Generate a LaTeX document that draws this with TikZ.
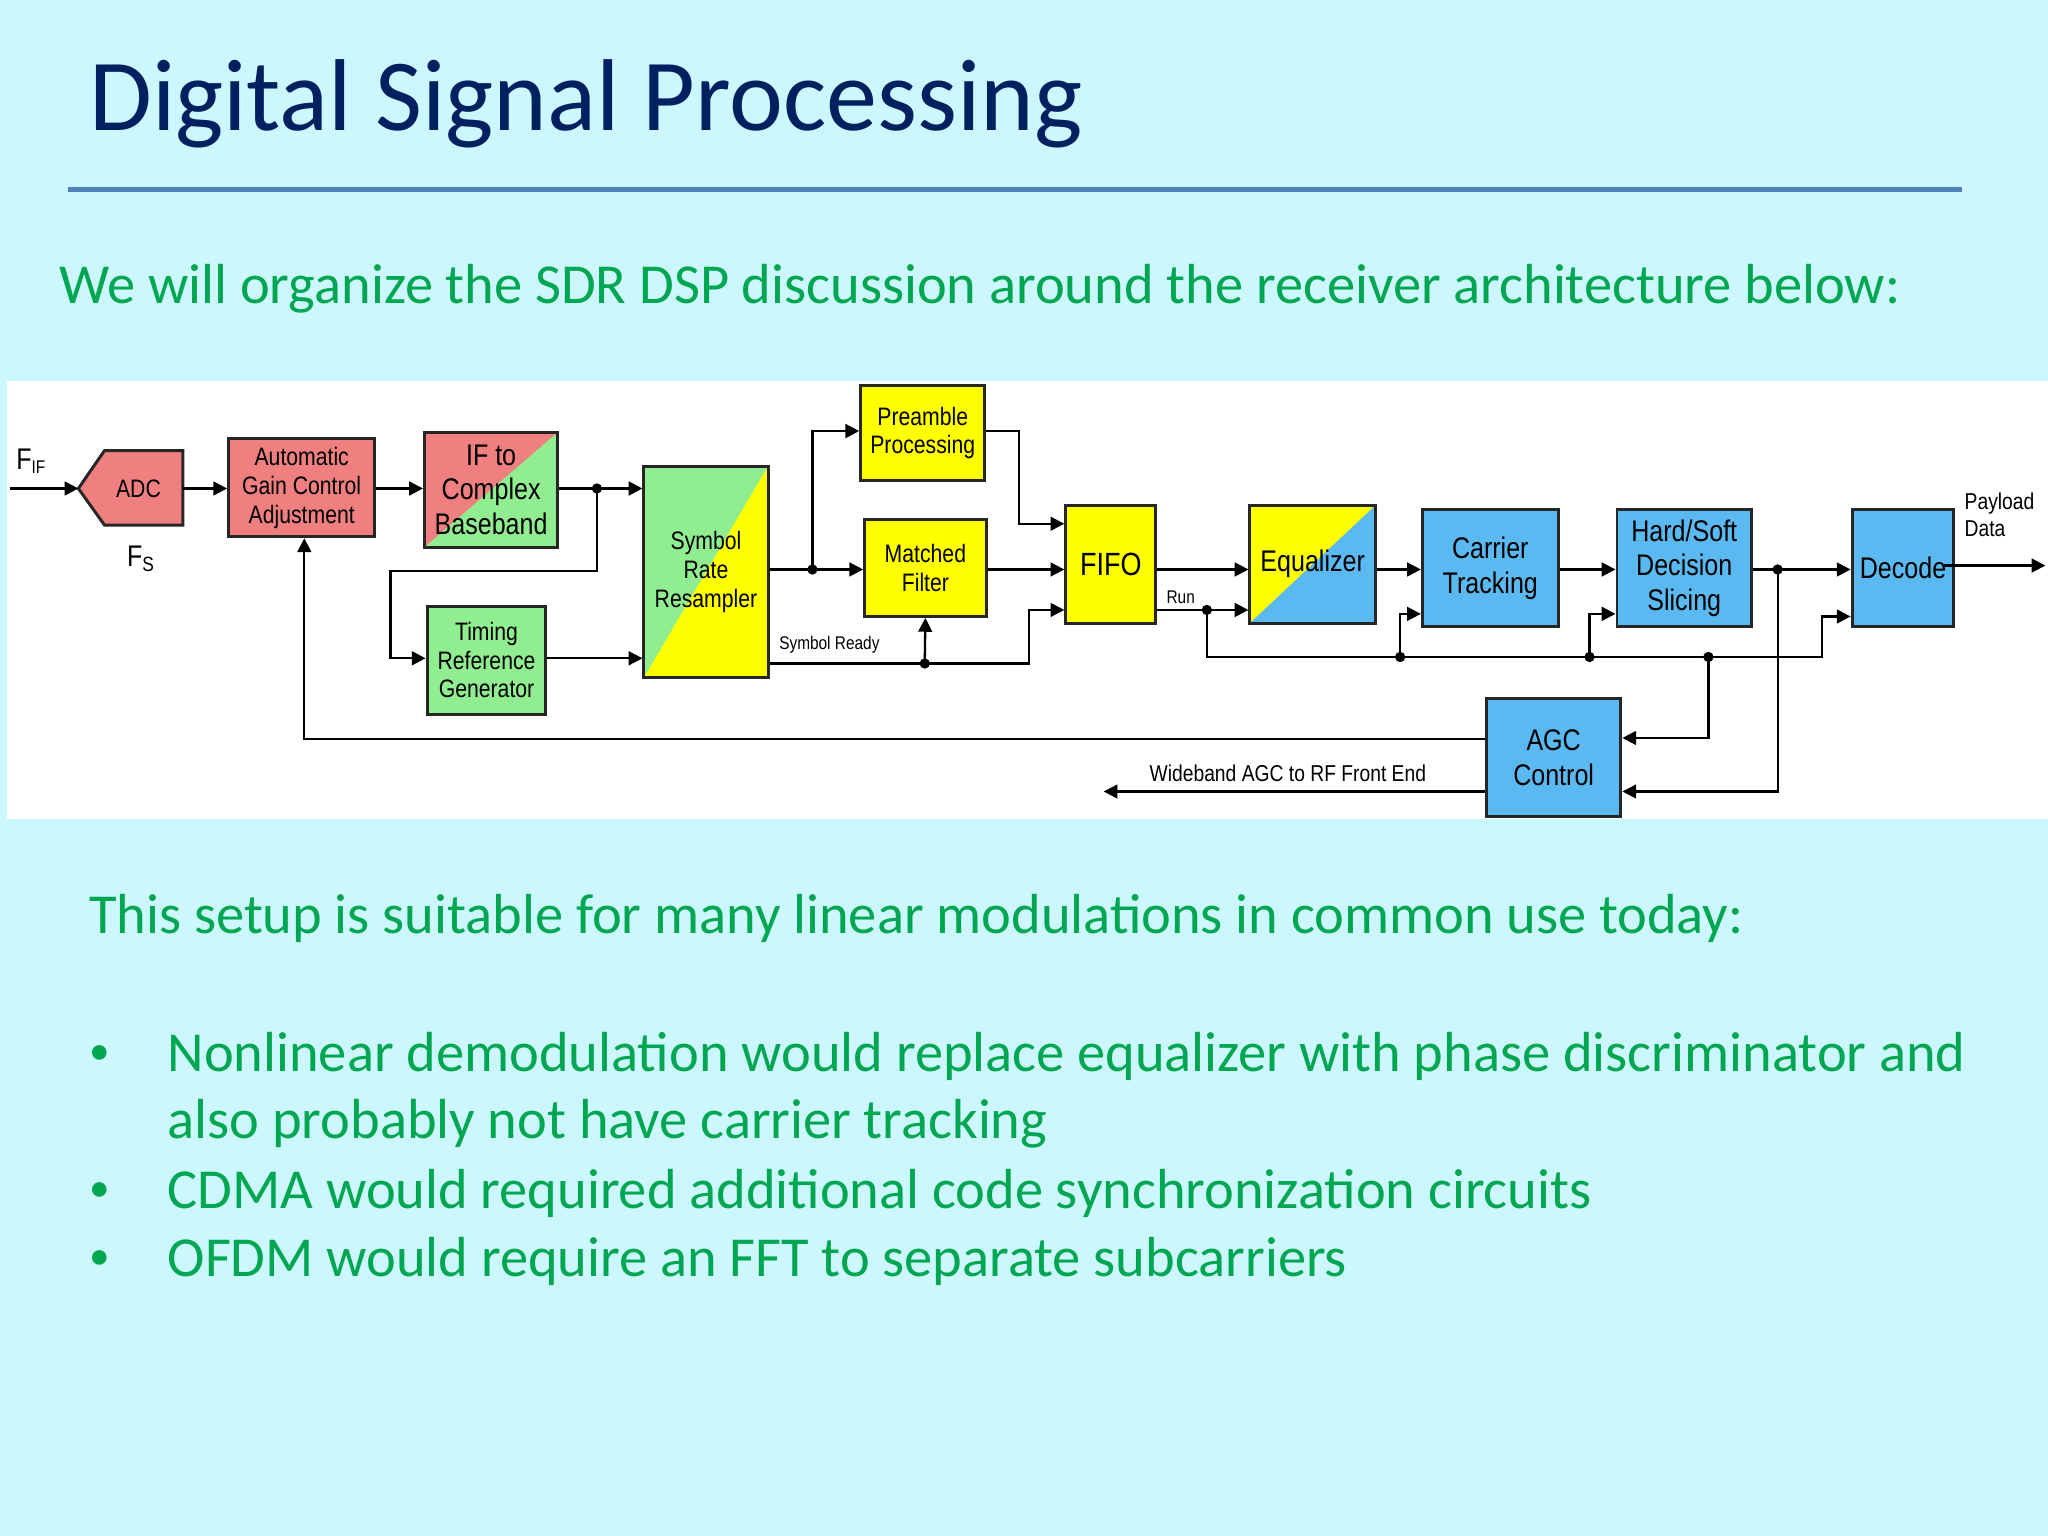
\documentclass[tikz,border=0pt]{standalone}
\usepackage{fontspec}
\setmainfont{Carlito}
\newfontfamily\diag[FakeStretch=0.84]{Liberation Sans}
\usetikzlibrary{arrows.meta}
\definecolor{bgc}{RGB}{204,247,255}
\definecolor{navy}{RGB}{0,32,96}
\definecolor{grn}{RGB}{0,166,80}
\definecolor{rul}{RGB}{79,129,189}
\definecolor{salm}{RGB}{240,128,128}
\definecolor{lgrn}{RGB}{144,238,144}
\definecolor{ylw}{RGB}{255,255,0}
\definecolor{lblu}{RGB}{90,185,240}
\begin{document}
\begin{tikzpicture}[x=0.02cm,y=-0.02cm,
  box/.style={draw=black!85,line width=1.3pt,inner sep=0pt,align=center,
    font=\diag\fontsize{11}{12.5}\selectfont},
  split/.style={path picture={\fill[#1] (path picture bounding box.south west)
    -- (path picture bounding box.north east) -- (path picture bounding box.south east) -- cycle;}},
  wire/.style={line width=1pt,black},
  arr/.style={wire,-{Triangle[length=6pt,width=6pt]}},
  dot/.style={circle,fill=black,inner sep=0pt,minimum size=4.5pt},
  lbl/.style={font=\diag\fontsize{8}{9}\selectfont,inner sep=1pt},
  body/.style={font=\fontsize{24.6}{30}\selectfont,text=grn,anchor=base west,inner sep=0pt}]
\fill[bgc] (0,0) rectangle (1568,1176);
\useasboundingbox (0,0) rectangle (1568,1176);
\node[font=\fontsize{44.5}{50}\selectfont,text=navy,anchor=base west,inner sep=0pt] (title) at (68,100) {Digital Signal Processing};
\draw[rul,line width=2.5pt] (52,145) -- (1502,145);
\node[body] (intro) at (45,232) {We will organize the SDR DSP discussion around the receiver architecture below:};
\fill[white] (5,292) rectangle (1568,627);

% blocks
\fill[salm,draw=black!85,line width=1.3pt] (60,374) -- (80,345) -- (140,345) -- (140,402) -- (80,402) -- cycle;
\node[font=\diag\fontsize{11}{12}\selectfont] (adc) at (106,374) {ADC};
\node[box,fill=salm,minimum width=112*0.02cm,minimum height=75*0.02cm] (agc) at (231,373.5) {Automatic\\Gain Control\\Adjustment};
\node[box,fill=salm,split=lgrn,minimum width=102*0.02cm,minimum height=88*0.02cm,font=\diag\fontsize{13}{15}\selectfont] (ifc) at (376,375) {IF to\\Complex\\Baseband};
\node[box,fill=lgrn,split=ylw,minimum width=95*0.02cm,minimum height=162*0.02cm] (srr) at (540.5,438) {Symbol\\Rate\\Resampler};
\node[box,fill=lgrn,minimum width=91*0.02cm,minimum height=83*0.02cm] (trg) at (372.5,505.5) {Timing\\Reference\\Generator};
\node[box,fill=ylw,minimum width=95*0.02cm,minimum height=73*0.02cm] (pre) at (706.5,331.5) {Preamble\\Processing};
\node[box,fill=ylw,minimum width=93*0.02cm,minimum height=74*0.02cm] (mf) at (708.5,435) {Matched\\Filter};
\node[box,fill=ylw,minimum width=69*0.02cm,minimum height=90*0.02cm,font=\diag\fontsize{14}{16}\selectfont] (fifo) at (850.5,432) {FIFO};
\node[box,fill=ylw,split=lblu,minimum width=96*0.02cm,minimum height=90*0.02cm,font=\diag\fontsize{13}{15}\selectfont] (eq) at (1005,432) {Equalizer};
\node[box,fill=lblu,minimum width=104*0.02cm,minimum height=90*0.02cm,font=\diag\fontsize{13}{15}\selectfont] (ct) at (1141,435) {Carrier\\Tracking};
\node[box,fill=lblu,minimum width=103*0.02cm,minimum height=90*0.02cm,font=\diag\fontsize{13}{15}\selectfont] (hs) at (1289.5,435) {Hard/Soft\\Decision\\Slicing};
\node[box,fill=lblu,minimum width=78*0.02cm,minimum height=90*0.02cm,font=\diag\fontsize{13}{15}\selectfont] (dec) at (1457,435) {Decode};
\node[box,fill=lblu,minimum width=103*0.02cm,minimum height=90*0.02cm,font=\diag\fontsize{13}{15}\selectfont] (agcc) at (1189.5,580) {AGC\\Control};

% labels
\node[font=\diag\fontsize{13}{14}\selectfont] (fif) at (24,353) {F\textsubscript{\fontsize{8}{9}\selectfont IF}};
\node[font=\diag\fontsize{13}{14}\selectfont] (fs) at (108,428) {F\textsubscript{\fontsize{9}{10}\selectfont S}};
\node[lbl] (symr) at (635,494) {Symbol Ready};
\node[lbl] (run) at (904,457) {Run};
\node[font=\diag\fontsize{10}{12}\selectfont,align=left,anchor=west] (pay) at (1498,394) {Payload\\Data};
\node[font=\diag\fontsize{10}{12}\selectfont] (wb) at (986,592) {Wideband AGC to RF Front End};

% coordinates
\coordinate (fin) at (8,374);
\coordinate (out) at (1566,433);
\coordinate (wbe) at (845,606);
\node[dot] (d1) at (457,374) {};
\node[dot] (d2) at (622,436) {};
\node[dot] (d3) at (708,508) {};
\node[dot] (d4) at (924,467) {};
\node[dot] (d5) at (1072,503) {};
\node[dot] (d6) at (1217,503) {};
\node[dot] (d7) at (1308,503) {};
\node[dot] (d8) at (1361,436) {};

% connectors
\draw[arr] (fin) -- (60,374);
\draw[arr] (140,374) -- (agc.west |- 0,374);
\draw[arr] (agc.east |- 0,374) -- (ifc.west |- 0,374);
\draw[arr] (ifc.east |- 0,374) -- (srr.west |- 0,374);
\draw[arr] (d1.center) -- (457,437) -- (299,437) |- (trg.west |- 0,504);
\draw[arr] (trg.east |- 0,504) -- (srr.west |- 0,504);
\draw[arr] (srr.east |- 0,436) -- (mf.west |- 0,436);
\draw[arr] (d2.center) |- (pre.west |- 0,330);
\draw[arr] (pre.east |- 0,330) -- (780,330) |- (fifo.west |- 0,401);
\draw[arr] (mf.east |- 0,436) -- (fifo.west |- 0,436);
\draw[arr] (srr.east |- 0,508) -- (788,508) |- (fifo.west |- 0,467);
\draw[arr] (d3.center) -- (mf.south);
\draw[arr] (fifo.east |- 0,436) -- (eq.west |- 0,436);
\draw[arr] (fifo.east |- 0,467) -- (eq.west |- 0,467);
\draw[arr] (d4.center) -- (924,503) -- (1395,503) |- (dec.west |- 0,472);
\draw[arr] (d5.center) |- (ct.west |- 0,470);
\draw[arr] (d6.center) |- (hs.west |- 0,470);
\draw[arr] (d7.center) |- (agcc.east |- 0,565);
\draw[arr] (eq.east |- 0,436) -- (ct.west |- 0,436);
\draw[arr] (ct.east |- 0,436) -- (hs.west |- 0,436);
\draw[arr] (hs.east |- 0,436) -- (dec.west |- 0,436);
\draw[arr] (d8.center) |- (agcc.east |- 0,606);
\draw[arr] (1488,433) -- (out);
\draw[arr] (agcc.west |- 0,566) -- (233,566) -- (agc.south -| 233,0);
\draw[arr] (agcc.west |- 0,606) -- (wbe);

% text below
\node[body] (setup) at (68,715) {This setup is suitable for many linear modulations in common use today:};
\node[body,font=\fontsize{18}{20}\selectfont] (b1) at (68,815) {•};
\node[body] (t1) at (128,820) {Nonlinear demodulation would replace equalizer with phase discriminator and};
\node[body] (t1b) at (128,872) {also probably not have carrier tracking};
\node[body,font=\fontsize{18}{20}\selectfont] (b2) at (68,920) {•};
\node[body] (t2) at (128,925) {CDMA would required additional code synchronization circuits};
\node[body,font=\fontsize{18}{20}\selectfont] (b3) at (68,972) {•};
\node[body] (t3) at (128,977) {OFDM would require an FFT to separate subcarriers};
\end{tikzpicture}
\end{document}
